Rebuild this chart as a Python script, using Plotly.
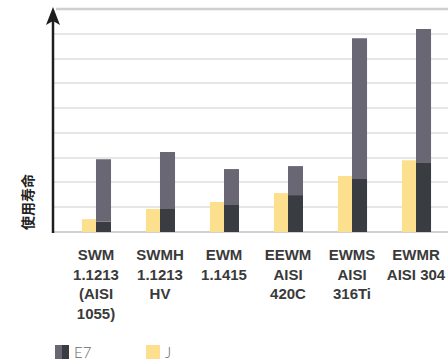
import plotly.graph_objects as go

# Wire grades and their lifetime values (relative units)
grades = [
    "SWM<br>1.1213<br>(AISI<br>1055)",
    "SWMH<br>1.1213<br>HV",
    "EWM<br>1.1415",
    "EEWM<br>AISI<br>420C",
    "EWMS<br>AISI<br>316Ti",
    "EWMR<br>AISI 304",
]
j_life = [0.52, 0.93, 1.21, 1.57, 2.26, 2.90]
e7_base = [0.41, 0.93, 1.09, 1.49, 2.14, 2.82]
e7_total = [2.94, 3.23, 2.54, 2.66, 7.82, 8.19]

C_J = "#FDE08E"
C_E7_DARK = "#393C41"
C_E7_LIGHT = "#696774"

W, H = 448, 361
ML, MR, MT, MB = 54, 0, 9, 129
PW, PH = W - ML - MR, H - MT - MB


def px_x(px):
    return (px - ML) / PW


def px_y(py):
    return (H - MB - py) / PH


e7_upper = [t - b for t, b in zip(e7_total, e7_base)]

fig = go.Figure()
fig.add_trace(go.Bar(x=grades, y=j_life, name="J", marker_color=C_J,
                     offset=-0.22, width=0.22, marker_line_width=0))
fig.add_trace(go.Bar(x=grades, y=e7_base, name="E7", marker_color=C_E7_DARK,
                     offset=0, width=0.235, marker_line_width=0))
fig.add_trace(go.Bar(x=grades, y=e7_upper, base=e7_base, name="E7",
                     marker_color=C_E7_LIGHT, offset=0, width=0.235,
                     marker_line_width=0))

fig.update_layout(
    width=W, height=H,
    margin=dict(l=ML, r=MR, t=MT, b=MB, pad=0),
    paper_bgcolor="white", plot_bgcolor="white",
    barmode="overlay", showlegend=False,
    font=dict(family="Liberation Sans, Arial, sans-serif", color="#333"),
)
fig.update_xaxes(
    type="category", range=[-0.656, 5.5], showgrid=False, showline=False,
    zeroline=False, ticks="", tickfont=dict(size=15, color="#3a3a3a", weight="bold"),
    ticklabelstandoff=12,
)
fig.update_yaxes(
    range=[0, 9], dtick=1, showgrid=True, gridcolor="#E6E6E6", gridwidth=2,
    showticklabels=False, ticks="", zeroline=True, zerolinecolor="#D0D0D0",
    zerolinewidth=2, showline=False,
)

shapes = []
# top border line
shapes.append(dict(type="line", xref="paper", yref="paper", x0=px_x(56), x1=1,
                   y0=1, y1=1, line=dict(color="#CFCFCF", width=2.5), layer="below"))
# vertical axis with arrowhead
shapes.append(dict(type="line", xref="paper", yref="paper", x0=px_x(53), x1=px_x(53),
                   y0=px_y(233), y1=px_y(20), line=dict(color="#1E1E1E", width=2.5)))
shapes.append(dict(type="path", xref="paper", yref="paper",
                   xsizemode="pixel", ysizemode="pixel", xanchor=px_x(53), yanchor=px_y(7),
                   path="M 0 0 L -7 -18 L 0 -14 L 7 -18 Z",
                   fillcolor="#1E1E1E", line=dict(width=0)))

# legend swatches
shapes.append(dict(type="rect", xref="paper", yref="paper",
                   x0=px_x(55), x1=px_x(62), y0=px_y(359), y1=px_y(345),
                   fillcolor=C_E7_LIGHT, line=dict(width=0)))
shapes.append(dict(type="rect", xref="paper", yref="paper",
                   x0=px_x(62), x1=px_x(69), y0=px_y(359), y1=px_y(345),
                   fillcolor=C_E7_DARK, line=dict(width=0)))
shapes.append(dict(type="rect", xref="paper", yref="paper",
                   x0=px_x(146), x1=px_x(160), y0=px_y(359), y1=px_y(345),
                   fillcolor=C_J, line=dict(width=0)))

annotations = [
    dict(text="<b>使用寿命</b>", xref="paper", yref="paper", x=px_x(27), y=0,
         xanchor="center", yanchor="bottom", textangle=-90, showarrow=False,
         font=dict(family="Noto Sans CJK SC, Noto Sans CJK JP", size=14, color="#222")),
    dict(text="E7", xref="paper", yref="paper", x=px_x(72), y=px_y(352),
         xanchor="left", yanchor="middle", showarrow=False,
         font=dict(family="Lato, Open Sans, sans-serif", size=15, color="#666", weight=300)),
    dict(text="J", xref="paper", yref="paper", x=px_x(163), y=px_y(352),
         xanchor="left", yanchor="middle", showarrow=False,
         font=dict(family="Lato, Open Sans, sans-serif", size=15, color="#666", weight=300)),
]

fig.update_layout(shapes=shapes, annotations=annotations)
fig.write_html("out.html")
